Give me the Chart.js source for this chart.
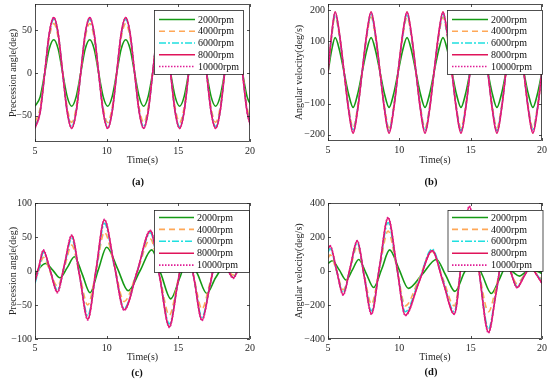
<!DOCTYPE html>
<html>
<head>
<meta charset="utf-8">
<script src="https://cdn.jsdelivr.net/npm/chart.js@4.4.1/dist/chart.umd.min.js"></script>
<style>
  html, body { margin: 0; padding: 0; background: #fff; }
  body { position: relative; width: 550px; height: 382px; overflow: hidden; font-family: "Liberation Serif", serif; }
  canvas { position: absolute; }
  .tag { position: absolute; width: 40px; text-align: center; font-weight: bold; font-size: 10.5px; line-height: 12px; color: #111; }
</style>
</head>
<body>
<canvas id="pa" width="275" height="200" style="left:0;top:-10px"></canvas>
<canvas id="pb" width="275" height="200" style="left:275px;top:-10px"></canvas>
<canvas id="pc" width="275" height="202" style="left:0;top:180px"></canvas>
<canvas id="pd" width="275" height="202" style="left:275px;top:180px"></canvas>
<div class="tag" style="left:118px;top:176px">(a)</div>
<div class="tag" style="left:411px;top:176px">(b)</div>
<div class="tag" style="left:117px;top:367px">(c)</div>
<div class="tag" style="left:411px;top:366px">(d)</div>
<script>
var rpmLabels = ['2000rpm', '4000rpm', '6000rpm', '8000rpm', '10000rpm'];
var xTicks = [5, 10, 15, 20];
var aTicks = [-50, 0, 50];
var bTicks = [-200, -100, 0, 100, 200];
var cTicks = [-100, -50, 0, 50, 100];
var dTicks = [-400, -200, 0, 200, 400];

// (a) precession angle, steady swing
var tA = [5.0, 5.36, 5.68, 5.99, 6.31, 6.62, 6.93, 7.25, 7.56, 7.87, 8.19, 8.5, 8.82, 9.13, 9.44, 9.76,
  10.07, 10.38, 10.7, 11.01, 11.33, 11.64, 11.95, 12.27, 12.58, 12.89, 13.21, 13.52, 13.84, 14.15, 14.46, 14.78,
  15.09, 15.4, 15.72, 16.03, 16.35, 16.66, 16.97, 17.29, 17.6, 17.91, 18.23, 18.54, 18.86, 19.17, 19.48, 19.8, 20.11];
var a2000 = [-39, -28, 0, 28, 39, 28, 0, -28, -39, -28, 0, 28, 39, 28, 0, -28,
  -39, -28, 0, 28, 39, 28, 0, -28, -39, -28, 0, 28, 39, 28, 0, -28,
  -39, -28, 0, 28, 39, 28, 0, -28, -39, -28, 0, 28, 39, 28, 0, -28, -39];
var a4000 = [-58, -41, 0, 41, 58, 41, 0, -41, -58, -41, 0, 41, 58, 41, 0, -41,
  -58, -41, 0, 41, 58, 41, 0, -41, -58, -41, 0, 41, 58, 41, 0, -41,
  -58, -41, 0, 41, 58, 41, 0, -41, -58, -41, 0, 41, 58, 41, 0, -41, -58];
var a6000 = [-63, -45, 0, 45, 63, 45, 0, -45, -63, -45, 0, 45, 63, 45, 0, -45,
  -63, -45, 0, 45, 63, 45, 0, -45, -63, -45, 0, 45, 63, 45, 0, -45,
  -63, -45, 0, 45, 63, 45, 0, -45, -63, -45, 0, 45, 63, 45, 0, -45, -63];
var a8000 = [-65, -46, 0, 46, 65, 46, 0, -46, -65, -46, 0, 46, 65, 46, 0, -46,
  -65, -46, 0, 46, 65, 46, 0, -46, -65, -46, 0, 46, 65, 46, 0, -46,
  -65, -46, 0, 46, 65, 46, 0, -46, -65, -46, 0, 46, 65, 46, 0, -46, -65];
var a10000 = [-65, -46, 0, 46, 65, 46, 0, -46, -65, -46, 0, 46, 65, 46, 0, -46,
  -65, -46, 0, 46, 65, 46, 0, -46, -65, -46, 0, 46, 65, 46, 0, -46,
  -65, -46, 0, 46, 65, 46, 0, -46, -65, -46, 0, 46, 65, 46, 0, -46, -65];

// (b) angular velocity, steady swing (sharp tips)
var tB = [5.0, 5.25, 5.5, 5.815, 6.13, 6.445, 6.76, 7.075, 7.39, 7.705, 8.02, 8.335, 8.65, 8.965, 9.28, 9.595,
  9.91, 10.225, 10.54, 10.855, 11.17, 11.485, 11.8, 12.115, 12.43, 12.745, 13.06, 13.375, 13.69, 14.005, 14.32, 14.635,
  14.95, 15.265, 15.58, 15.895, 16.21, 16.525, 16.84, 17.155, 17.47, 17.785, 18.1, 18.415, 18.73, 19.045, 19.36, 19.675, 19.99];
var b2000 = [0, 70, 112, 70, 0, -70, -112, -70, 0, 70, 112, 70, 0, -70, -112, -70,
  0, 70, 112, 70, 0, -70, -112, -70, 0, 70, 112, 70, 0, -70, -112, -70,
  0, 70, 112, 70, 0, -70, -112, -70, 0, 70, 112, 70, 0, -70, -112, -70, 0];
var b4000 = [0, 111, 178, 111, 0, -111, -178, -111, 0, 111, 178, 111, 0, -111, -178, -111,
  0, 111, 178, 111, 0, -111, -178, -111, 0, 111, 178, 111, 0, -111, -178, -111,
  0, 111, 178, 111, 0, -111, -178, -111, 0, 111, 178, 111, 0, -111, -178, -111, 0];
var b6000 = [0, 116, 187, 116, 0, -116, -187, -116, 0, 116, 187, 116, 0, -116, -187, -116,
  0, 116, 187, 116, 0, -116, -187, -116, 0, 116, 187, 116, 0, -116, -187, -116,
  0, 116, 187, 116, 0, -116, -187, -116, 0, 116, 187, 116, 0, -116, -187, -116, 0];
var b8000 = [0, 121, 195, 121, 0, -121, -195, -121, 0, 121, 195, 121, 0, -121, -195, -121,
  0, 121, 195, 121, 0, -121, -195, -121, 0, 121, 195, 121, 0, -121, -195, -121,
  0, 121, 195, 121, 0, -121, -195, -121, 0, 121, 195, 121, 0, -121, -195, -121, 0];
var b10000 = [0, 119, 192, 119, 0, -119, -192, -119, 0, 119, 192, 119, 0, -119, -192, -119,
  0, 119, 192, 119, 0, -119, -192, -119, 0, 119, 192, 119, 0, -119, -192, -119,
  0, 119, 192, 119, 0, -119, -192, -119, 0, 119, 192, 119, 0, -119, -192, -119, 0];

// (c) precession angle, irregular
var tC = [5.0, 5.29, 5.58, 6.07, 6.56, 7.06, 7.56, 8.12, 8.68, 9.26, 9.84, 10.53, 11.22, 12.14, 13.05,
  13.71, 14.37, 14.96, 15.55, 16.1, 16.65, 17.2, 17.75, 18.3, 18.84, 19.13, 19.42, 19.71, 20.0];
var tC2000 = [5.0, 5.3, 5.75, 6.25, 6.74, 7.25, 7.75, 8.3, 8.84, 9.42, 10.0, 10.75, 11.5, 12.32, 13.14,
  13.8, 14.47, 15.1, 15.7, 16.35, 16.98, 17.6, 18.2, 18.9, 19.5, 20.0];
var c2000 = [-6, 4, 11, 1, -10, 5, 21, -5, -32, 2, 35, 4, -29, 0, 31, -5, -41, -10, 22, -5, -33, -10, 6, 3, 4, 2];
var c4000 = [-14, 3, 20, -2, -22, 6, 38, -6, -50, 0, 57, 8, -45, 0, 47, -8, -65, -15, 38, -10, -56, -18, 18, 6, -6, 0, 8, 4, 2];
var c6000 = [-18, 4, 27, 0, -28, 8, 48, -8, -66, 0, 70, 8, -55, 0, 56, -10, -78, -18, 43, -12, -68, -22, 24, 8, -9, 0, 11, 6, 2];
var c8000 = [-15, 8, 30, 0, -31, 10, 52, -8, -71, 2, 75, 9, -57, 0, 59, -10, -82, -18, 45, -12, -72, -22, 25, 8, -10, 0, 12, 6, 1];
var c10000 = [-16, 8, 31, 0, -32, 10, 53, -8, -72, 2, 76, 9, -58, 0, 60, -10, -83, -18, 46, -12, -73, -22, 26, 8, -11, 0, 12, 6, 1];

// (d) angular velocity, irregular
var tD = [5.0, 5.15, 5.6, 6.06, 6.55, 7.05, 7.55, 8.04, 8.62, 9.21, 9.82, 10.42, 11.36, 12.3,
  13.07, 13.85, 14.37, 14.9, 15.57, 16.25, 16.78, 17.3, 17.78, 18.25, 18.72, 19.2, 19.6, 20.0];
var tD2000 = [5.0, 5.3, 5.8, 6.27, 6.7, 7.15, 7.68, 8.2, 8.76, 9.32, 9.98, 10.63, 11.6, 12.6,
  13.25, 13.9, 14.55, 15.2, 15.82, 16.45, 16.95, 17.5, 17.95, 18.43, 18.8, 19.3, 19.65, 20.0];
var d2000 = [45, 60, 5, -53, 5, 68, -15, -97, 10, 124, 10, -102, -20, 68, -25, -120, -10, 80, -25, -132, -60, 25, -5, -30, -10, 10, -2, -15];
var d4000 = [75, 95, 0, -110, 10, 145, -30, -195, 20, 235, 18, -205, -50, 115, -48, -205, 45, 290, 5, -240, -95, 75, 0, -75, -28, 15, -15, -50];
var d6000 = [110, 132, 2, -128, 15, 165, -35, -235, 25, 285, 22, -240, -62, 130, -58, -240, 55, 355, 8, -340, -125, 95, 0, -90, -33, 22, -18, -62];
var d8000 = [130, 147, 5, -140, 18, 177, -38, -252, 30, 312, 26, -260, -70, 120, -66, -253, 63, 378, 9, -360, -130, 100, 2, -97, -35, 25, -20, -72];
var d10000 = [132, 149, 5, -142, 18, 179, -38, -255, 30, 316, 26, -263, -70, 118, -66, -255, 63, 382, 9, -365, -130, 102, 2, -99, -35, 26, -20, -73];

var styles = [
  { color: '#159a15', dash: [] },
  { color: '#ffa857', dash: [6, 4] },
  { color: '#1fe0e0', dash: [7, 2, 2, 2] },
  { color: '#e0145a', dash: [] },
  { color: '#e01e96', dash: [1.5, 1.5] }
];
var serif = '"Liberation Serif", "Times New Roman", serif';
var ink = '#262626';

function fmt(v) {
  return v < 0 ? '\u2212' + Math.abs(v) : '' + v;
}

var framePlugin = {
  id: 'frame',
  afterDatasetsDraw: function(chart) {
    var ctx = chart.ctx, a = chart.chartArea;
    var x = chart.scales.x, y = chart.scales.y;
    ctx.save();
    ctx.strokeStyle = ink;
    ctx.lineWidth = 0.8;
    ctx.setLineDash([]);
    ctx.beginPath();
    x.ticks.forEach(function(t) {
      var px = Math.round(x.getPixelForValue(t.value)) + 0.5;
      ctx.moveTo(px, a.bottom); ctx.lineTo(px, a.bottom - 3);
      ctx.moveTo(px, a.top); ctx.lineTo(px, a.top + 3);
    });
    y.ticks.forEach(function(t) {
      var py = Math.round(y.getPixelForValue(t.value)) + 0.5;
      ctx.moveTo(a.left, py); ctx.lineTo(a.left + 3, py);
      ctx.moveTo(a.right, py); ctx.lineTo(a.right - 3, py);
    });
    ctx.stroke();
    ctx.strokeRect(a.left + 0.5, a.top + 0.5, a.right - a.left - 1, a.bottom - a.top - 1);
    ctx.restore();
  },
  afterDraw: function(chart, args, o) {
    var ctx = chart.ctx, L = o.box;
    ctx.save();
    ctx.fillStyle = '#fff';
    ctx.fillRect(L.x, L.y, L.w, L.h);
    ctx.strokeStyle = ink;
    ctx.lineWidth = 0.8;
    ctx.strokeRect(L.x + 0.5, L.y + 0.5, L.w, L.h);
    chart.data.datasets.forEach(function(ds, i) {
      var yy = L.row0 + i * L.step;
      ctx.strokeStyle = ds.borderColor;
      ctx.lineWidth = ds.borderWidth;
      ctx.setLineDash(ds.borderDash);
      ctx.beginPath();
      ctx.moveTo(L.l0, yy);
      ctx.lineTo(L.l1, yy);
      ctx.stroke();
      ctx.setLineDash([]);
      ctx.fillStyle = '#111';
      ctx.font = '10px ' + serif;
      ctx.textBaseline = 'middle';
      ctx.fillText(ds.label, L.tx, yy + 0.5);
    });
    ctx.restore();
  }
};

function makeChart(id, series, p) {
  var datasets = series.map(function(s, i) {
    return {
      label: rpmLabels[i],
      data: s.v.map(function(v, k) { return { x: s.t[k], y: v }; }),
      borderColor: styles[i].color,
      borderDash: styles[i].dash,
      borderWidth: 1.6,
      order: 5 - i
    };
  });
  var tickFont = { family: serif, size: 10 };
  return new Chart(document.getElementById(id), {
    type: 'line',
    data: { datasets: datasets },
    options: {
      responsive: false,
      animation: false,
      layout: { padding: { left: 0, top: p.top, right: p.right, bottom: 0 } },
      elements: { point: { radius: 0 }, line: { cubicInterpolationMode: 'monotone' } },
      plugins: {
        legend: { display: false },
        tooltip: { enabled: false },
        frame: { box: p.box }
      },
      scales: {
        x: {
          type: 'linear', min: 5, max: 20,
          afterBuildTicks: function(s) { s.ticks = xTicks.map(function(v) { return { value: v }; }); },
          afterFit: function(s) { s.height = p.xh; },
          grid: { display: false, drawTicks: false }, border: { display: false },
          ticks: { padding: 3, font: tickFont, color: ink, maxRotation: 0, autoSkip: false },
          title: { display: true, text: 'Time(s)', font: tickFont, color: ink, padding: { top: 0, bottom: p.xtp } }
        },
        y: {
          min: p.ymin, max: p.ymax,
          afterBuildTicks: function(s) { s.ticks = p.yt.map(function(v) { return { value: v }; }); },
          afterFit: function(s) { s.width = p.yw; },
          grid: { display: false, drawTicks: false }, border: { display: false },
          ticks: { padding: 3, font: tickFont, color: ink, callback: fmt },
          title: { display: true, text: p.ytitle, font: tickFont, color: ink, padding: { top: p.ytp, bottom: 0 } }
        }
      }
    },
    plugins: [framePlugin]
  });
}

makeChart('pa', [
  { t: tA, v: a2000 }, { t: tA, v: a4000 }, { t: tA, v: a6000 }, { t: tA, v: a8000 }, { t: tA, v: a10000 }
], { top: 14, right: 25, yw: 35, xh: 48, xtp: 24, ytp: 7, ymin: -81, ymax: 81, yt: aTicks,
     ytitle: 'Precession angle(deg)',
     box: { x: 154, y: 20, w: 89, h: 64, l0: 159, l1: 195, tx: 198, row0: 29.5, step: 11.75 } });

makeChart('pb', [
  { t: tB, v: b2000 }, { t: tB, v: b4000 }, { t: tB, v: b6000 }, { t: tB, v: b8000 }, { t: tB, v: b10000 }
], { top: 14, right: 7, yw: 53, xh: 49, xtp: 24, ytp: 18.5, ymin: -220, ymax: 220, yt: bTicks,
     ytitle: 'Angular velocity(deg/s)',
     box: { x: 172, y: 20, w: 95, h: 64, l0: 177, l1: 213, tx: 216, row0: 29.5, step: 11.75 } });

makeChart('pc', [
  { t: tC2000, v: c2000 }, { t: tC, v: c4000 }, { t: tC, v: c6000 }, { t: tC, v: c8000 }, { t: tC, v: c10000 }
], { top: 23, right: 25, yw: 35, xh: 43, xtp: 19, ytp: 7, ymin: -100, ymax: 100, yt: cTicks,
     ytitle: 'Precession angle(deg)',
     box: { x: 154, y: 30, w: 95, h: 62, l0: 159, l1: 194, tx: 197, row0: 37.5, step: 11.9 } });

makeChart('pd', [
  { t: tD2000, v: d2000 }, { t: tD, v: d4000 }, { t: tD, v: d6000 }, { t: tD, v: d8000 }, { t: tD, v: d10000 }
], { top: 23, right: 7, yw: 53, xh: 43, xtp: 19, ytp: 18.5, ymin: -400, ymax: 400, yt: dTicks,
     ytitle: 'Angular velocity(deg/s)',
     box: { x: 172.5, y: 30, w: 95, h: 61, l0: 177, l1: 213, tx: 216, row0: 37.5, step: 11.9 } });
</script>
</body>
</html>
